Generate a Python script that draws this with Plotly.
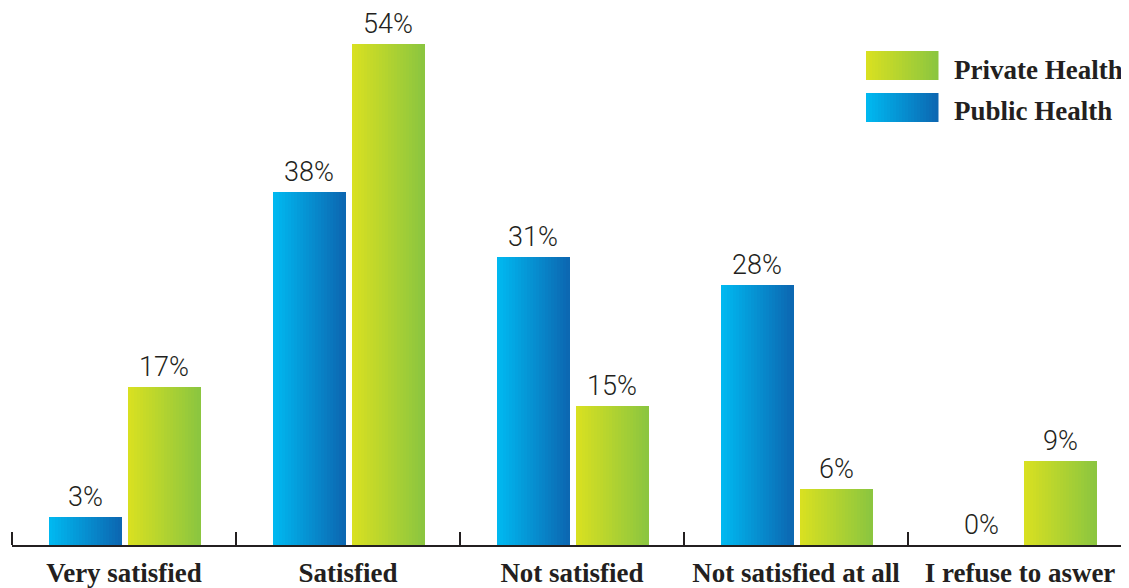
import plotly.graph_objects as go

categories = ["Very satisfied", "Satisfied", "Not satisfied", "Not satisfied at all", "I refuse to aswer"]
public_health = [3, 38, 31, 28, 0]
private_health = [17, 54, 15, 6, 9]
value_labels_public = ["3%", "38%", "31%", "28%", "0%"]
value_labels_private = ["17%", "54%", "15%", "6%", "9%"]

N = 24
BAR_W = 0.322
BLUE_OFF = -0.334
GREEN_OFF = 0.018
blue_from, blue_to = (0, 184, 240), (12, 104, 178)
green_from, green_to = (216, 224, 33), (140, 198, 63)
TXT = "#231F20"

# page offset of the figure (body margin) = 8px
L, T, PW, PH = 4, 0, 1120, 537


def lerp(c1, c2, t):
    return "rgb(%d,%d,%d)" % tuple(round(a + (b - a) * t) for a, b in zip(c1, c2))


xs = list(range(len(categories)))
fig = go.Figure()
for vals, off, c1, c2 in [(public_health, BLUE_OFF, blue_from, blue_to),
                          (private_health, GREEN_OFF, green_from, green_to)]:
    for i in range(N):
        fig.add_trace(go.Bar(
            x=xs, y=vals, width=BAR_W / N + 0.002, offset=off + i * BAR_W / N,
            marker=dict(color=lerp(c1, c2, i / (N - 1)), line=dict(width=0)),
            showlegend=False, hoverinfo="skip"))

annotations = []
for i in xs:
    for val, lab, off in [(public_health[i], value_labels_public[i], BLUE_OFF),
                          (private_health[i], value_labels_private[i], GREEN_OFF)]:
        annotations.append(dict(x=i + off + BAR_W / 2, y=val, text=lab, showarrow=False,
                                xref="x", yref="y", yanchor="bottom", yshift=2,
                                font=dict(family="Roboto", size=27, color=TXT, weight=300)))

# manual legend (page coords -> figure coords: minus 8px)
shapes = []
legend_items = [("Private Health", green_from, green_to, 65.5), ("Public Health", blue_from, blue_to, 107.5)]
x0, x1 = 866 - 8, 938 - 8
for name, c1, c2, yc_page in legend_items:
    yc = 1 - (yc_page - 8 - T) / PH
    for i in range(N):
        sx0 = x0 + (x1 - x0) * i / N
        sx1 = x0 + (x1 - x0) * (i + 1) / N + 0.5
        shapes.append(dict(type="rect", xref="paper", yref="paper",
                           x0=(sx0 - L) / PW, x1=(sx1 - L) / PW,
                           y0=yc - 14.5 / PH, y1=yc + 14.5 / PH,
                           fillcolor=lerp(c1, c2, i / (N - 1)), line=dict(width=0)))
    annotations.append(dict(x=(952 - 8 - L) / PW, y=yc, xref="paper", yref="paper",
                            xanchor="left", yanchor="middle", text="<b>%s</b>" % name,
                            showarrow=False, yshift=-4,
                            font=dict(family="Liberation Serif", size=27, color=TXT)))

fig.update_layout(
    width=1129, height=588,
    margin=dict(l=L, r=1129 - L - PW, t=T, b=588 - T - PH, autoexpand=False),
    paper_bgcolor="white", plot_bgcolor="white",
    barmode="overlay", bargap=0,
    annotations=annotations, shapes=shapes,
    xaxis=dict(range=[-0.5, 4.5], tickvals=xs, ticktext=["<b>%s</b>" % c for c in categories],
               ticks="", showgrid=False, zeroline=False,
               showline=True, linecolor=TXT, linewidth=2,
               tickfont=dict(family="Liberation Serif", size=27, color=TXT),
               ticklabelstandoff=3,
               minor=dict(tick0=-0.5, dtick=1, ticks="inside", ticklen=13, tickwidth=2,
                          tickcolor=TXT, showgrid=False),
               fixedrange=True, automargin=False),
    yaxis=dict(range=[0, PH / 9.28], visible=False, fixedrange=True),
)
fig.write_html("out.html")
